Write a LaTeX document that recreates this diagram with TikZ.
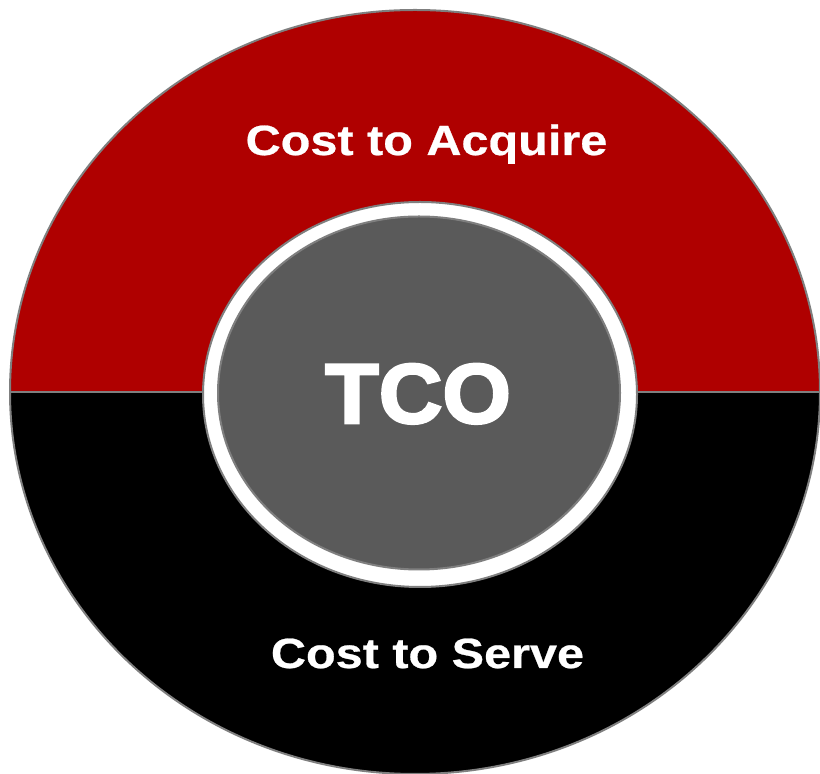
\documentclass[tikz,border=0pt]{standalone}
\usepackage{fontspec}
\usetikzlibrary{shapes.geometric}

\newfontfamily\capfont{Liberation Sans}[FakeStretch=1.15,FakeBold=0.6]
\newfontfamily\tcofont{Liberation Sans}[FakeStretch=1.04,FakeBold=3]

\definecolor{acqred}{HTML}{AF0000}
\definecolor{coregray}{HTML}{5A5A5A}
\definecolor{rimgray}{HTML}{7F7F7F}

\begin{document}
\begin{tikzpicture}[x=1bp, y=1bp, line width=2bp]
		\useasboundingbox (0, 0) rectangle (820, 774);
		
		% outer halves
		\fill[acqred] (10, 382) arc[start angle=180, end angle=0, x radius=405, y radius=382] -- cycle;
		\fill[black] (10, 382) arc[start angle=180, end angle=360, x radius=405, y radius=382] -- cycle;
		\draw[rimgray] (415, 382) ellipse [x radius=405, y radius=382];
		\draw[rimgray] (10, 382) -- (820, 382);
		
		\begin{scope}[every node/.style={ellipse, draw=rimgray, inner sep=0pt}]
		\node[fill=white, minimum width=434bp, minimum height=385bp] 	(ring) at (420, 379.5) {};
		\node[fill=coregray, minimum width=402bp, minimum height=353bp] (core) at (419, 381)   {};
		\end{scope}
		
		\begin{scope}[every node/.style={text=white, inner sep=0pt, anchor=base}]
		\node (acquire) at (426.5, 619) {\capfont\bfseries\fontsize{42.4}{50}\selectfont Cost to Acquire};
		\node (serve)   at (427.5, 106) {\capfont\bfseries\fontsize{42.4}{50}\selectfont Cost to Serve};
		\node (tco)     at (418, 351)   {\tcofont\bfseries\fontsize{85}{95}\selectfont TCO};
		\end{scope}
		
\end{tikzpicture}
\end{document}
